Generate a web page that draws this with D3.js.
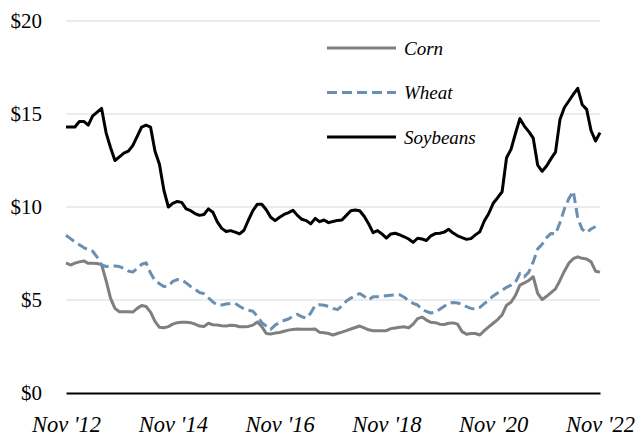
<!DOCTYPE html>
<html>
<head>
<meta charset="utf-8">
<script src="https://cdn.jsdelivr.net/npm/d3@7/dist/d3.min.js"></script>
<style>
  html, body { margin: 0; padding: 0; background: #fff; }
  svg { display: block; }
</style>
</head>
<body>
<svg id="chart" width="641" height="439"></svg>
<script>
// Monthly grain prices, $ per bushel, Nov 2012 – Nov 2022
const months = d3.range(121).map(i => {
  const d = new Date(2012, 10 + i, 1);
  return d3.timeFormat("%Y-%m")(d);
});

const corn = [
  7.00, 6.88, 6.98, 7.05, 7.10, 6.97, 6.97, 6.96, 6.90, 6.05,
  5.10, 4.55, 4.37, 4.37, 4.37, 4.35, 4.55, 4.70, 4.65, 4.35,
  3.85, 3.53, 3.51, 3.57, 3.70, 3.78, 3.80, 3.80, 3.78, 3.70,
  3.60, 3.58, 3.75, 3.67, 3.65, 3.62, 3.60, 3.64, 3.63, 3.56,
  3.56, 3.58, 3.65, 3.82, 3.57, 3.20, 3.17, 3.22, 3.25, 3.32,
  3.38, 3.42, 3.44, 3.43, 3.43, 3.43, 3.44, 3.26, 3.24, 3.20,
  3.12, 3.20, 3.27, 3.35, 3.44, 3.52, 3.60, 3.50, 3.40, 3.35,
  3.35, 3.35, 3.35, 3.46, 3.50, 3.54, 3.56, 3.50, 3.70, 4.00,
  4.08, 3.92, 3.80, 3.78, 3.70, 3.68, 3.75, 3.77, 3.70, 3.30,
  3.16, 3.20, 3.20, 3.12, 3.35, 3.55, 3.75, 3.95, 4.20, 4.72,
  4.88, 5.25, 5.80, 5.92, 6.05, 6.25, 5.35, 5.02, 5.20, 5.40,
  5.60, 6.05, 6.55, 6.98, 7.22, 7.32, 7.24, 7.20, 7.05, 6.55,
  6.50
];

const wheat = [
  8.48, 8.30, 8.12, 7.97, 7.82, 7.70, 7.62, 7.30, 6.88, 6.80,
  6.82, 6.83, 6.80, 6.70, 6.56, 6.50, 6.70, 6.92, 7.00, 6.45,
  6.04, 5.88, 5.72, 5.75, 6.00, 6.10, 6.08, 5.92, 5.73, 5.58,
  5.40, 5.34, 5.12, 4.90, 4.73, 4.73, 4.78, 4.82, 4.82, 4.66,
  4.52, 4.45, 4.40, 4.12, 3.78, 3.60, 3.42, 3.65, 3.80, 3.90,
  3.98, 4.12, 4.23, 4.10, 4.02, 4.30, 4.72, 4.75, 4.72, 4.66,
  4.55, 4.48, 4.68, 4.95, 5.10, 5.24, 5.35, 5.20, 5.00, 5.17,
  5.18, 5.20, 5.23, 5.26, 5.28, 5.28, 5.15, 4.95, 4.82, 4.73,
  4.50, 4.38, 4.30, 4.35, 4.50, 4.66, 4.82, 4.86, 4.84, 4.78,
  4.64, 4.55, 4.50, 4.60, 4.80, 5.00, 5.22, 5.38, 5.52, 5.68,
  5.80, 5.95, 6.43, 6.25, 6.50, 7.05, 7.75, 8.00, 8.35, 8.58,
  8.55, 9.15, 9.90, 10.45, 10.85, 9.40, 8.80, 8.62, 8.82, 8.95
];

const soybeans = [
  14.30, 14.30, 14.30, 14.60, 14.60, 14.40, 14.90, 15.10, 15.30, 14.00,
  13.20, 12.50, 12.70, 12.90, 13.00, 13.30, 13.80, 14.30, 14.40, 14.30,
  13.00, 12.30, 10.90, 10.00, 10.20, 10.30, 10.25, 9.90, 9.80, 9.65,
  9.55, 9.60, 9.90, 9.72, 9.20, 8.85, 8.68, 8.73, 8.65, 8.55,
  8.75, 9.30, 9.80, 10.15, 10.15, 9.85, 9.45, 9.27, 9.45, 9.60,
  9.70, 9.82, 9.55, 9.34, 9.27, 9.09, 9.39, 9.21, 9.30, 9.16,
  9.22, 9.28, 9.30, 9.55, 9.80, 9.84, 9.80, 9.50, 9.10, 8.62,
  8.73, 8.55, 8.33, 8.55, 8.59, 8.50, 8.40, 8.28, 8.10, 8.32,
  8.28, 8.20, 8.45, 8.57, 8.59, 8.65, 8.80, 8.60, 8.45, 8.35,
  8.26, 8.30, 8.50, 8.67, 9.25, 9.65, 10.20, 10.50, 10.82, 12.65,
  13.10, 13.95, 14.75, 14.35, 14.05, 13.70, 12.25, 11.92, 12.20, 12.60,
  12.95, 14.70, 15.35, 15.70, 16.05, 16.38, 15.50, 15.25, 14.10, 13.55,
  14.00
];

const yTicks = [0, 5, 10, 15, 20];
const tickMonths = ["2012-11", "2014-11", "2016-11", "2018-11", "2020-11", "2022-11"];
const tickLabels = ["Nov '12", "Nov '14", "Nov '16", "Nov '18", "Nov '20", "Nov '22"];

const series = [
  { name: "Corn", values: corn, color: "#7f7f7f", dash: null },
  { name: "Wheat", values: wheat, color: "#6b8fb2", dash: "10,5" },
  { name: "Soybeans", values: soybeans, color: "#000000", dash: null }
];

const serif = 'Tinos, "Liberation Serif", "DejaVu Serif", "Noto Serif", "Times New Roman", Times, serif';

const svg = d3.select("#chart");
const plotLeft = 66, plotRight = 600, plotTop = 21, plotBottom = 393;

const x = d3.scalePoint().domain(months).range([plotLeft, plotRight]);
const y = d3.scaleLinear().domain([0, 20]).range([plotBottom, plotTop]);

// horizontal gridlines
svg.append("g")
  .selectAll("line")
  .data(yTicks.filter(d => d > 0))
  .join("line")
  .attr("x1", plotLeft).attr("x2", plotRight)
  .attr("y1", d => y(d)).attr("y2", d => y(d))
  .attr("stroke", "#d9d9d9").attr("stroke-width", 1);

// y axis labels
const yAxis = svg.append("g")
  .attr("transform", `translate(${plotLeft - 24},0)`)
  .call(d3.axisLeft(y).tickValues(yTicks).tickFormat(d => "$" + d).tickSize(0));
yAxis.attr("font-family", null);
yAxis.select(".domain").remove();
yAxis.selectAll("text")
  .attr("x", 0)
  .style("font-family", serif)
  .style("font-size", "21px")
  .attr("fill", "#000");

// x axis along zero
const xAxis = svg.append("g")
  .attr("transform", `translate(0,${plotBottom})`)
  .call(d3.axisBottom(x)
    .tickValues(tickMonths)
    .tickFormat((d, i) => tickLabels[i])
    .tickSize(0)
    .tickSizeOuter(0));
xAxis.attr("font-family", null);
xAxis.select(".domain").attr("stroke", "#000").attr("stroke-width", 2);
xAxis.selectAll("text")
  .attr("y", 23)
  .attr("dy", "0.71em")
  .style("font-family", serif)
  .style("font-style", "italic")
  .style("font-size", "22.5px")
  .attr("fill", "#000");

// series lines
const line = d3.line()
  .x((d, i) => x(months[i]))
  .y(d => y(d));

series.forEach(s => {
  svg.append("path")
    .datum(s.values)
    .attr("d", line)
    .attr("fill", "none")
    .attr("stroke", s.color)
    .attr("stroke-width", 3)
    .attr("stroke-linejoin", "round")
    .attr("stroke-dasharray", s.dash);
});

// legend
const legend = svg.append("g");
const legendY = d3.scaleLinear().domain([0, 2]).range([48, 137]);
series.forEach((s, i) => {
  legend.append("line")
    .attr("x1", 327).attr("x2", 396)
    .attr("y1", legendY(i)).attr("y2", legendY(i))
    .attr("stroke", s.color)
    .attr("stroke-width", 3)
    .attr("stroke-dasharray", s.dash);
  legend.append("text")
    .attr("x", 404)
    .attr("y", legendY(i))
    .attr("dy", "0.35em")
    .style("font-family", serif)
    .style("font-style", "italic")
    .style("font-size", "19px")
    .attr("fill", "#000")
    .text(s.name);
});
</script>
</body>
</html>
